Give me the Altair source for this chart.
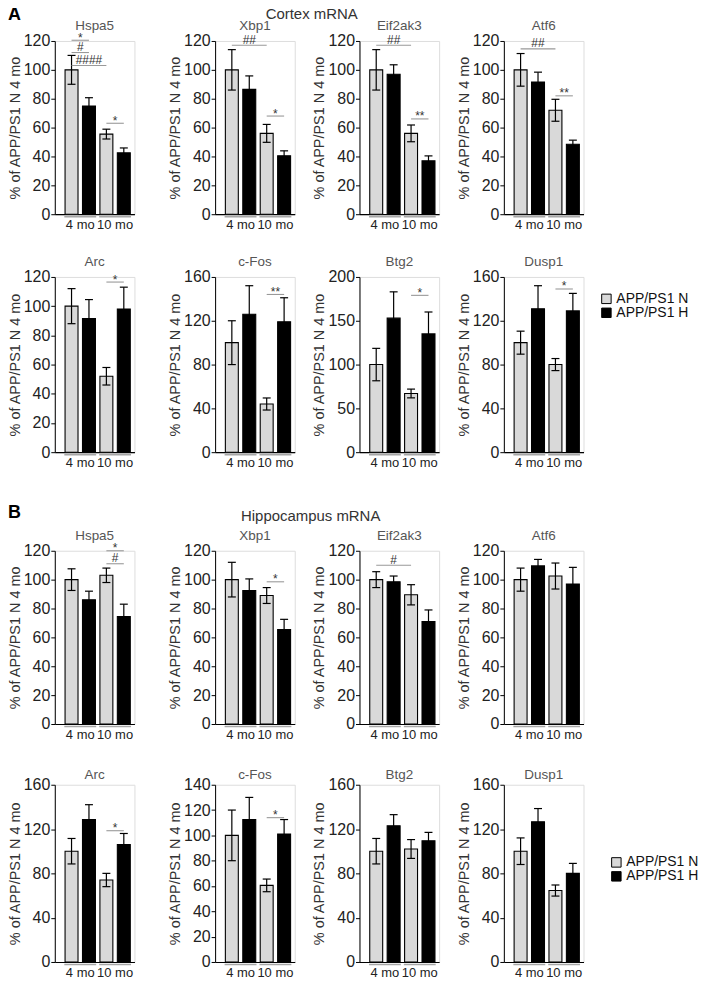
import altair as alt
import pandas as pd

FONT = "Liberation Sans"

# ---------------- data ----------------
bar_index = [0, 1, 2, 3]
bar_series = ["APP/PS1 N", "APP/PS1 H", "APP/PS1 N", "APP/PS1 H"]
age_groups = ["4 mo", "10 mo"]
age_group_index = [0, 1]
series_names = ["APP/PS1 N", "APP/PS1 H"]
series_colors = ["#d9d9d9", "#000000"]
y_title = "% of APP/PS1 N 4 mo"
section_letters = ["A", "B"]
section_titles = ["Cortex mRNA", "Hippocampus mRNA"]

# Cortex mRNA: means and error (SEM) per bar: N 4mo, H 4mo, N 10mo, H 10mo
ctx_hspa5_mean = [100, 75, 55.5, 42.5]
ctx_hspa5_err = [10, 5.7, 3.4, 3.4]
ctx_hspa5_sig = [(0, 1, 120.5, "*"), (0, 1, 112, "#"), (0, 2, 103, "####"), (2, 3, 63, "*")]
ctx_xbp1_mean = [100, 86.5, 56, 40.5]
ctx_xbp1_err = [14, 9.3, 6.2, 3.4]
ctx_xbp1_sig = [(0, 2, 117, "##"), (2, 3, 68, "*")]
ctx_eif2ak3_mean = [100, 97, 56, 37]
ctx_eif2ak3_err = [14, 6.5, 5.8, 3.4]
ctx_eif2ak3_sig = [(0, 2, 117, "##"), (2, 3, 66, "**")]
ctx_atf6_mean = [100, 91.5, 72, 48.5]
ctx_atf6_err = [11.3, 6.9, 7.6, 2.8]
ctx_atf6_sig = [(0, 2, 114.5, "##"), (2, 3, 82, "**")]
ctx_arc_mean = [100, 91.5, 52, 98]
ctx_arc_err = [12, 13, 6, 15]
ctx_arc_sig = [(2, 3, 116.5, "*")]
ctx_cfos_mean = [100, 126, 44, 119]
ctx_cfos_err = [20, 26, 5.5, 22]
ctx_cfos_sig = [(2, 3, 144, "**")]
ctx_btg2_mean = [100, 153, 67, 135]
ctx_btg2_err = [18.5, 30, 5, 25]
ctx_btg2_sig = [(2, 3, 179, "*")]
ctx_dusp1_mean = [100, 131, 80, 129]
ctx_dusp1_err = [10.5, 21, 5.5, 16]
ctx_dusp1_sig = [(2, 3, 149, "*")]

# Hippocampus mRNA
hip_hspa5_mean = [100, 86, 103, 74.5]
hip_hspa5_err = [7.5, 6, 5, 8.5]
hip_hspa5_sig = [(2, 3, 120, "*"), (2, 3, 111, "#")]
hip_xbp1_mean = [100, 92.5, 89, 65.5]
hip_xbp1_err = [12, 8, 5.5, 7]
hip_xbp1_sig = [(2, 3, 98.5, "*")]
hip_eif2ak3_mean = [100, 98.5, 89.5, 71]
hip_eif2ak3_err = [5.5, 4, 7, 8]
hip_eif2ak3_sig = [(0, 2, 110, "#")]
hip_atf6_mean = [100, 109.5, 102.5, 97]
hip_atf6_err = [8, 4.5, 9, 11.5]
hip_atf6_sig = []
hip_arc_mean = [100, 128.5, 74, 106]
hip_arc_err = [11.5, 13.5, 6, 10]
hip_arc_sig = [(2, 3, 118.5, "*")]
hip_cfos_mean = [100, 112.5, 60.5, 101]
hip_cfos_err = [20, 17.5, 5, 11.5]
hip_cfos_sig = [(2, 3, 114, "*")]
hip_btg2_mean = [100, 123, 102, 109.5]
hip_btg2_err = [11.5, 10, 8.5, 7.5]
hip_btg2_sig = []
hip_dusp1_mean = [100, 126.5, 64.5, 80]
hip_dusp1_err = [12, 12, 5, 9]
hip_dusp1_sig = []

# y axis extent (max, step) per panel
ctx_er_axes = [(120, 20), (120, 20), (120, 20), (120, 20)]
ctx_ieg_axes = [(120, 20), (160, 40), (200, 50), (160, 40)]
hip_er_axes = [(120, 20), (120, 20), (120, 20), (120, 20)]
hip_ieg_axes = [(160, 40), (140, 20), (160, 40), (160, 40)]

# ---------------- chart building ----------------
PW = 80
XS = alt.Scale(domain=[-0.675, 3.325], nice=False, zero=False)
CAP = "M-1,0L1,0"


def text_layer(txt, x, y, size, weight="normal", align="center", color="#333"):
    return alt.Chart(pd.DataFrame({"t": [txt]})).mark_text(
        fontSize=size, font=FONT, fontWeight=weight, align=align, baseline="middle", color=color
    ).encode(x=alt.value(x), y=alt.value(y), text="t:N")


def panel(gene, mean, err, sig, ymax, ystep, h, tpos, legend_xy=None, extras=()):
    ys = alt.Scale(domain=[0, ymax], nice=False, zero=True)
    bars_df = pd.DataFrame({"idx": bar_index, "series": bar_series, "mean": mean, "err": err})
    base = alt.Chart(bars_df).transform_calculate(
        lo="datum.mean - datum.err", hi="datum.mean + datum.err"
    )
    if legend_xy is None:
        leg = None
    else:
        leg = alt.Legend(
            orient="none", legendX=legend_xy[0], legendY=legend_xy[1], title=None,
            symbolType="square", symbolSize=90, symbolStrokeColor="#000",
            symbolStrokeWidth=1, labelFontSize=14, labelFont=FONT, labelColor="#111",
            rowPadding=0, labelOffset=3,
        )
    yvals = list(range(0, ymax + 1, ystep))
    yaxis = alt.Axis(
        values=yvals, tickCount=len(yvals), title=y_title, titleFontSize=14.5,
        titleFont=FONT, titleFontWeight="normal", titleColor="#333", titlePadding=1,
        labelFontSize=16, labelFont=FONT, labelColor="#222", labelPadding=1,
        labelOverlap=False, labelFlush=False, labelBound=False,
        tickSize=4, tickColor="#000", domainColor="#000", grid=False,
    )
    xaxis = alt.Axis(title=None, labels=False, ticks=False, grid=False, domain=True,
                     domainColor="#000", domainWidth=1.2)
    bars = base.mark_bar(width=13, stroke="#000", strokeWidth=1.1, orient="vertical").encode(
        x=alt.X("idx:Q", scale=XS, axis=xaxis),
        y=alt.Y("mean:Q", scale=ys, stack=None, axis=yaxis),
        color=alt.Color("series:N", scale=alt.Scale(domain=series_names, range=series_colors), legend=leg),
    )
    err_rule = base.mark_rule(color="#000", strokeWidth=1.2).encode(
        x=alt.X("idx:Q", scale=XS), y=alt.Y("lo:Q", scale=ys), y2="hi:Q"
    )
    cap_hi = base.mark_point(shape=CAP, size=64, filled=False, color="#000", strokeWidth=1.2, opacity=1).encode(
        x=alt.X("idx:Q", scale=XS), y=alt.Y("hi:Q", scale=ys)
    )
    cap_lo = base.mark_point(shape=CAP, size=64, filled=False, color="#000", strokeWidth=1.2, opacity=1).encode(
        x=alt.X("idx:Q", scale=XS), y=alt.Y("lo:Q", scale=ys)
    )
    grp = alt.Chart(pd.DataFrame({"grp": age_groups, "gi": age_group_index})).transform_calculate(
        gm="2 * datum.gi + 0.5"
    )
    underline = grp.mark_point(shape=CAP, size=32 * 32, filled=False, color="#a6a6a6", strokeWidth=1.6, opacity=1).encode(
        x=alt.X("gm:Q", scale=XS), y=alt.value(h + 2.5)
    )
    glabels = grp.mark_text(fontSize=13, font=FONT, baseline="top", color="#222").encode(
        x=alt.X("gm:Q", scale=XS), y=alt.value(h + 5), text="grp:N"
    )
    layers = [bars, err_rule, cap_hi, cap_lo, underline, glabels]
    if sig:
        sdf = pd.DataFrame(sig, columns=["a", "b", "lvl", "lab"])
        sbase = alt.Chart(sdf).transform_calculate(m="(datum.a + datum.b) / 2")
        layers.append(sbase.mark_rule(color="#999", strokeWidth=1.1).encode(
            x=alt.X("a:Q", scale=XS), x2="b:Q", y=alt.Y("lvl:Q", scale=ys)
        ))
        # stars sit high in the em box: nudge them down; hashes sit on the line
        layers.append(sbase.transform_filter("indexof(datum.lab, '*') >= 0").mark_text(
            fontSize=12, font=FONT, baseline="alphabetic", dy=1.5, color="#333").encode(
            x=alt.X("m:Q", scale=XS), y=alt.Y("lvl:Q", scale=ys), text="lab:N"
        ))
        layers.append(sbase.transform_filter("indexof(datum.lab, '*') < 0").mark_text(
            fontSize=12, font=FONT, baseline="alphabetic", dy=-1.5, color="#333").encode(
            x=alt.X("m:Q", scale=XS), y=alt.Y("lvl:Q", scale=ys), text="lab:N"
        ))
    layers.append(text_layer(gene, PW / 2, tpos, 13.5, color="#555"))
    layers.extend(extras)
    return alt.layer(*layers).properties(width=PW, height=h)


def indep(c):
    return c.resolve_scale(color="independent").resolve_legend(color="independent")


def row(panels, s_first, s_rest):
    inner = indep(alt.hconcat(*panels[1:], spacing=s_rest, bounds="flush"))
    return indep(alt.hconcat(panels[0], inner, spacing=s_first, bounds="full"))


H1, H2, H3, H4 = 174, 176, 174, 178
ctx_er = [("Hspa5", ctx_hspa5_mean, ctx_hspa5_err, ctx_hspa5_sig),
          ("Xbp1", ctx_xbp1_mean, ctx_xbp1_err, ctx_xbp1_sig),
          ("Eif2ak3", ctx_eif2ak3_mean, ctx_eif2ak3_err, ctx_eif2ak3_sig),
          ("Atf6", ctx_atf6_mean, ctx_atf6_err, ctx_atf6_sig)]
ctx_ieg = [("Arc", ctx_arc_mean, ctx_arc_err, ctx_arc_sig),
           ("c-Fos", ctx_cfos_mean, ctx_cfos_err, ctx_cfos_sig),
           ("Btg2", ctx_btg2_mean, ctx_btg2_err, ctx_btg2_sig),
           ("Dusp1", ctx_dusp1_mean, ctx_dusp1_err, ctx_dusp1_sig)]
hip_er = [("Hspa5", hip_hspa5_mean, hip_hspa5_err, hip_hspa5_sig),
          ("Xbp1", hip_xbp1_mean, hip_xbp1_err, hip_xbp1_sig),
          ("Eif2ak3", hip_eif2ak3_mean, hip_eif2ak3_err, hip_eif2ak3_sig),
          ("Atf6", hip_atf6_mean, hip_atf6_err, hip_atf6_sig)]
hip_ieg = [("Arc", hip_arc_mean, hip_arc_err, hip_arc_sig),
           ("c-Fos", hip_cfos_mean, hip_cfos_err, hip_cfos_sig),
           ("Btg2", hip_btg2_mean, hip_btg2_err, hip_btg2_sig),
           ("Dusp1", hip_dusp1_mean, hip_dusp1_err, hip_dusp1_sig)]


def make_row(items, axes, h, tpos, legend_xy=None, header=None):
    ps = []
    for k, ((g, m, e, s), (ymax, ystep)) in enumerate(zip(items, axes)):
        lx = legend_xy if (legend_xy is not None and k == 3) else None
        extras = []
        if header is not None and k == 0:
            extras.append(text_layer(header[0], -47, header[2], 18, weight="bold", align="left", color="#000"))
        if header is not None and k == 1:
            extras.append(text_layer(header[1], header[3], header[4], 15, color="#333"))
        ps.append(panel(g, m, e, s, ymax, ystep, h, tpos, lx, extras))
    return row(ps, 31, 65)


r1 = make_row(ctx_er, ctx_er_axes, H1, -15, header=(section_letters[0], section_titles[0], -26, 97, -27.5))
r2 = make_row(ctx_ieg, ctx_ieg_axes, H2, -15, (96, 15))
r3 = make_row(hip_er, hip_er_axes, H3, -15, header=(section_letters[1], section_titles[1], -38, 96, -35))
r4 = make_row(hip_ieg, hip_ieg_axes, H4, -10, (106, 71))

blockA = indep(alt.vconcat(r1, r2, spacing=21))
blockB = indep(alt.vconcat(r3, r4, spacing=24))

PAD = {"left": -2, "top": -5, "right": 0, "bottom": 0}
chart = indep(alt.vconcat(blockA, blockB, spacing=32, padding=PAD))
chart = chart.configure_view(strokeOpacity=0, strokeWidth=0).configure_axis(
    labelOverlap=False
).configure(font=FONT, background="white")

chart.save("out.html", embed_options={"renderer": "svg", "actions": False})
